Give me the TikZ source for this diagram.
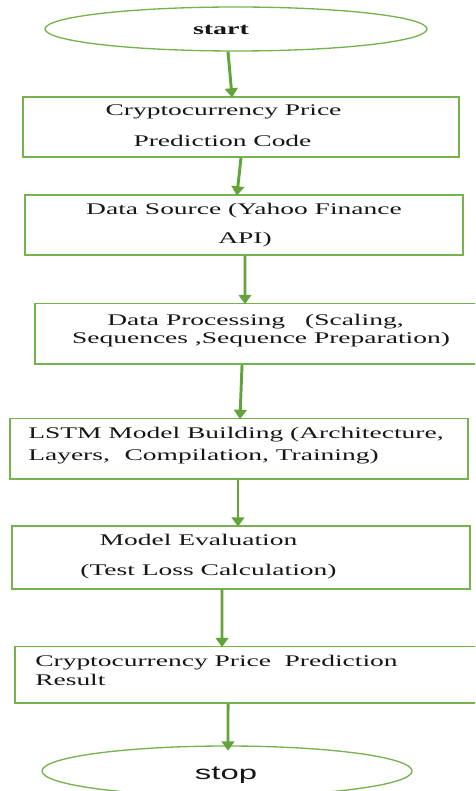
\documentclass[tikz,border=0pt]{standalone}
\usepackage{fontspec}
\usetikzlibrary{shapes.geometric,arrows.meta,fit}
\newfontfamily\serifw[FakeStretch=1.69]{Liberation Serif}
\newfontfamily\sansw[FakeStretch=1.7]{Liberation Sans}
\definecolor{boxgreen}{RGB}{118,178,78}
\definecolor{arrgreen}{RGB}{98,163,58}
\definecolor{txt}{RGB}{22,22,22}
\tikzset{
  flowbox/.style={draw=boxgreen, line width=1.1pt, inner sep=0pt, rectangle},
  term/.style={draw=boxgreen, line width=1pt, ellipse, inner sep=0pt},
  txtc/.style={anchor=base, inner sep=0pt, text=txt, font=\serifw\fontsize{12.2}{14}\selectfont},
  txtl/.style={anchor=base west, inner sep=0pt, text=txt, font=\serifw\fontsize{12.2}{14}\selectfont},
  flowarr/.style={draw=arrgreen, line width=2.2pt, -{Triangle[width=9.5pt,length=7pt]}, shorten >=-1pt}
}
\begin{document}
\begin{tikzpicture}[x=0.75pt,y=-0.75pt]
\useasboundingbox (0,0) rectangle (475,791);
\clip (0,0) rectangle (475,791);
% terminals
\node[term, minimum width=286.5pt, minimum height=33pt] (start) at (236,29) {};
\node[term, minimum width=277.5pt, minimum height=37.5pt] (stop) at (227,771) {};
% boxes
\node[flowbox, fit={(23,97) (459,157)}] (b1) {};
\node[flowbox, fit={(25,195) (463,255)}] (b2) {};
\node[flowbox, fit={(35,303.5) (480,364)}] (b3) {};
\node[flowbox, fit={(10,418.5) (468,479)}] (b4) {};
\node[flowbox, fit={(12,526) (470,589)}] (b5) {};
\node[flowbox, fit={(15,646.5) (480,703)}] (b6) {};
% texts
\node[anchor=base, inner sep=0pt, text=txt, font=\serifw\bfseries\fontsize{12.4}{14}\selectfont] (tstart) at (221,35) {start};
\node[anchor=base, inner sep=0pt, text=txt, font=\sansw\fontsize{14.5}{16}\selectfont] (tstop) at (226,779) {stop};
\node[txtc] (t1a) at (223.5,116) {Cryptocurrency Price};
\node[txtc] (t1b) at (222.5,146.5) {Prediction Code};
\node[txtc] (t2a) at (244,215) {Data Source (Yahoo Finance};
\node[txtc] (t2b) at (245,244) {API)};
\node[txtl] (t3a) at (107,325) {Data Processing\hspace{15pt}(Scaling,};
\node[txtc] (t3b) at (261,343.5) {Sequences ,Sequence Preparation)};
\node[txtl] (t4a) at (28,438.5) {LSTM Model Building (Architecture,};
\node[txtl] (t4b) at (28,460) {Layers,\hspace{11pt}Compilation, Training)};
\node[txtc] (t5a) at (198.5,545) {Model Evaluation};
\node[txtc] (t5b) at (208.5,575) {(Test Loss Calculation)};
\node[txtl] (t6a) at (35,666) {Cryptocurrency Price\hspace{5pt} Prediction};
\node[txtl] (t6b) at (35,685) {Result};
% arrows
\draw[flowarr] ([xshift=-6pt]start.south) -- ([xshift=-6.75pt]b1.north);
\draw[flowarr] ([xshift=0pt]b1.south) -- ([xshift=-5.25pt]b2.north);
\draw[flowarr] ([xshift=0.75pt]b2.south) -- ([xshift=-9.4pt]b3.north);
\draw[flowarr] ([xshift=-11.6pt]b3.south) -- ([xshift=0.75pt]b4.north);
\draw[flowarr] ([xshift=-0.75pt]b4.south) -- ([xshift=-2.25pt]b5.north);
\draw[flowarr] ([xshift=-14.25pt]b5.south) -- ([xshift=-19.1pt]b6.north);
\draw[flowarr] ([xshift=-14.6pt]b6.south) -- ([xshift=0.75pt,yshift=-3pt]stop.north);
\end{tikzpicture}
\end{document}
